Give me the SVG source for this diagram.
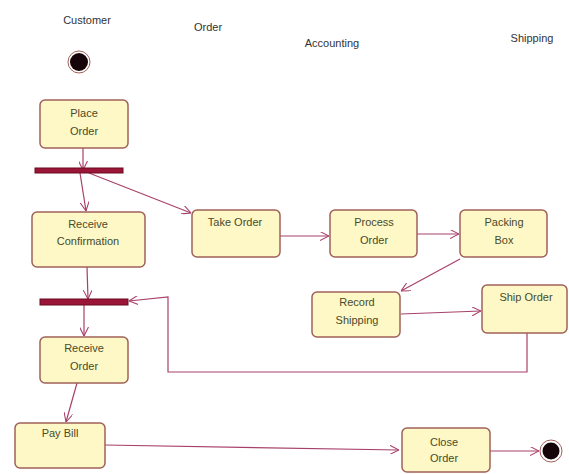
<svg xmlns="http://www.w3.org/2000/svg" width="569" height="474" viewBox="0 0 569 474">
<style>
.lane{font-family:"Liberation Sans",Arial,sans-serif;font-size:11px;fill:#333;text-anchor:middle}
.box{fill:#fdf8c6;stroke:#a0605a;stroke-width:1.5}
.t{font-family:"Liberation Sans",Arial,sans-serif;font-size:11px;fill:#4a4a2a;text-anchor:middle}
.bar{fill:#9a1538;stroke:#6a0a20;stroke-width:1}
.c{fill:none;stroke:#a8406a;stroke-width:1.2;marker-end:url(#ah)}
</style>
<defs>
<marker id="ah" viewBox="0 0 10 10" refX="10" refY="5" markerWidth="9" markerHeight="9" markerUnits="userSpaceOnUse" orient="auto">
<path d="M0,0 L10,5 L0,10" fill="none" stroke="#a8406a" stroke-width="1.2"/>
</marker>
</defs>
<rect width="569" height="474" fill="#ffffff"/>
<g id="lanes">
<text class="lane" x="87" y="24">Customer</text>
<text class="lane" x="208" y="31">Order</text>
<text class="lane" x="332" y="47">Accounting</text>
<text class="lane" x="532" y="42">Shipping</text>
</g>
<g id="connectors">
<path class="c" d="M83,148 L83,170"/>
<path class="c" d="M80,173 L86,211"/>
<path class="c" d="M89,173 L191,213"/>
<path class="c" d="M87,267 L88,299"/>
<path class="c" d="M84,305 L84,336"/>
<path class="c" d="M77,383 L66,422"/>
<path class="c" d="M280,236 L329,236"/>
<path class="c" d="M417,234 L459,234"/>
<path class="c" d="M460,259 L401,291"/>
<path class="c" d="M401,314 L481,311"/>
<path class="c" d="M527,333 L527,372 L168,372 L168,297 L129,301"/>
<path class="c" d="M105,445 L399,450"/>
<path class="c" d="M490,451 L539,451"/>
</g>
<g id="start">
<circle cx="79" cy="62" r="11" fill="#fff" stroke="#a0605a" stroke-width="1"/>
<circle cx="79" cy="62" r="9" fill="#150508"/>
</g>
<g id="fork1"><rect class="bar" x="35" y="168" width="88" height="5"/></g>
<g id="fork2"><rect class="bar" x="40" y="299" width="88" height="6"/></g>
<g id="place-order">
<rect class="box" x="40" y="100" width="88" height="48" rx="5"/>
<text class="t" x="84" y="117">Place</text>
<text class="t" x="84" y="135">Order</text>
</g>
<g id="receive-confirmation">
<rect class="box" x="32" y="212" width="113" height="55" rx="5"/>
<text class="t" x="88" y="228">Receive</text>
<text class="t" x="88" y="245">Confirmation</text>
</g>
<g id="take-order">
<rect class="box" x="192" y="210" width="88" height="47" rx="5"/>
<text class="t" x="235" y="226">Take Order</text>
</g>
<g id="process-order">
<rect class="box" x="330" y="210" width="87" height="47" rx="5"/>
<text class="t" x="374" y="226">Process</text>
<text class="t" x="374" y="244">Order</text>
</g>
<g id="packing-box">
<rect class="box" x="460" y="210" width="87" height="47" rx="5"/>
<text class="t" x="504" y="226">Packing</text>
<text class="t" x="504" y="244">Box</text>
</g>
<g id="record-shipping">
<rect class="box" x="312" y="292" width="88" height="45" rx="5"/>
<text class="t" x="357" y="306">Record</text>
<text class="t" x="357" y="324">Shipping</text>
</g>
<g id="ship-order">
<rect class="box" x="482" y="285" width="85" height="48" rx="5"/>
<text class="t" x="526" y="301">Ship Order</text>
</g>
<g id="receive-order">
<rect class="box" x="40" y="337" width="88" height="46" rx="5"/>
<text class="t" x="84" y="352">Receive</text>
<text class="t" x="84" y="370">Order</text>
</g>
<g id="pay-bill">
<rect class="box" x="15" y="423" width="90" height="45" rx="5"/>
<text class="t" x="60" y="437">Pay Bill</text>
</g>
<g id="close-order">
<rect class="box" x="402" y="428" width="88" height="44" rx="5"/>
<text class="t" x="444" y="446">Close</text>
<text class="t" x="444" y="462">Order</text>
</g>
<g id="end">
<circle cx="551" cy="451" r="11" fill="#fff" stroke="#a0605a" stroke-width="1"/>
<circle cx="551" cy="451" r="8.5" fill="#150508"/>
</g>
</svg>
